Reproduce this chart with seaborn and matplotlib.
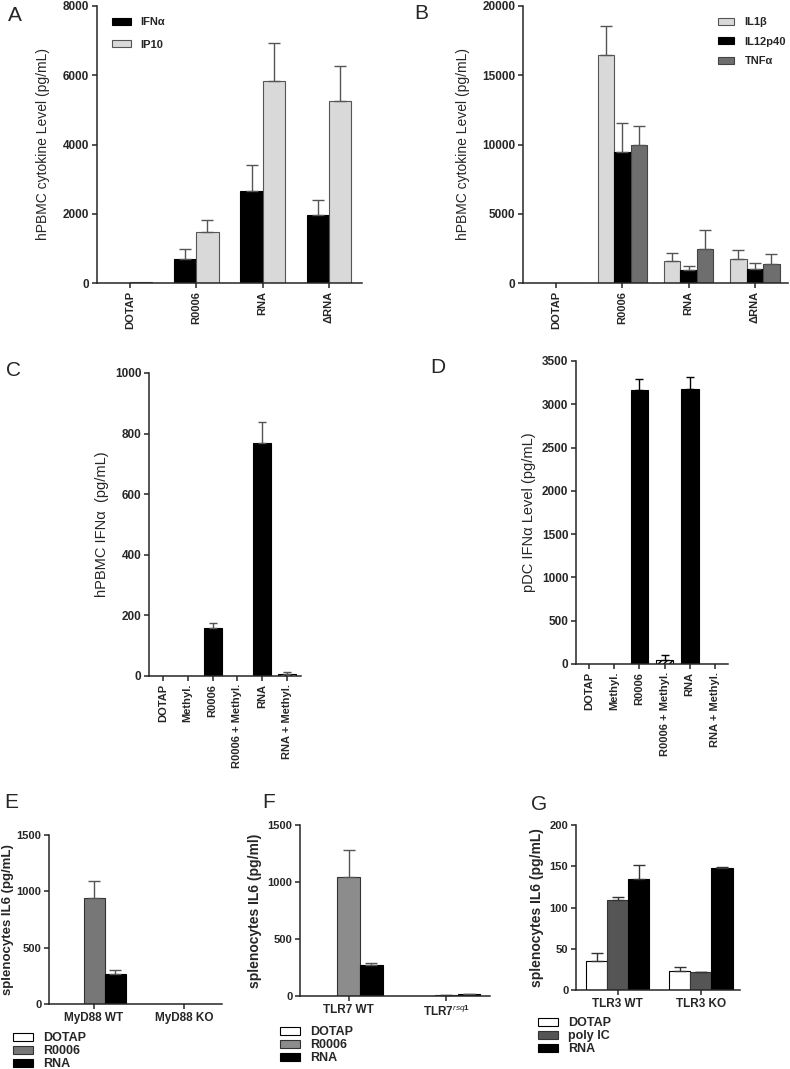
import matplotlib
matplotlib.use("Agg")
import numpy as np
import pandas as pd
import seaborn as sns
import matplotlib.pyplot as plt

sns.set_style("ticks")
plt.rcParams["font.family"] = ["Liberation Sans", "DejaVu Sans"]
plt.rcParams["mathtext.fontset"] = "custom"
plt.rcParams["mathtext.it"] = "Liberation Sans:italic"
plt.rcParams["mathtext.rm"] = "Liberation Sans:bold"

# ---------------- data ----------------
a_groups = ["DOTAP", "R0006", "RNA", "\u0394RNA"]
a_ifna = [0, 690, 2650, 1960]
a_ifna_top = [0, 990, 3420, 2390]
a_ip10 = [30, 1470, 5830, 5250]
a_ip10_top = [30, 1830, 6920, 6260]

b_groups = ["DOTAP", "R0006", "RNA", "\u0394RNA"]
b_il1b = [0, 16480, 1570, 1760]
b_il1b_top = [0, 18580, 2170, 2410]
b_il12 = [0, 9470, 960, 1010]
b_il12_top = [0, 11520, 1250, 1420]
b_tnfa = [0, 9930, 2430, 1400]
b_tnfa_top = [0, 11370, 3850, 2070]

cd_groups = ["DOTAP", "Methyl.", "R0006", "R0006 + Methyl.", "RNA", "RNA + Methyl."]
c_ifna = [0, 0, 157, 0, 769, 8]
c_ifna_top = [0, 0, 174, 0, 837, 13]
d_ifna = [0, 0, 3166, 46, 3178, 0]
d_ifna_top = [0, 0, 3290, 100, 3320, 0]

e_groups = ["MyD88 WT", "MyD88 KO"]
e_dotap = [0, 0]
e_r0006 = [940, 0]
e_r0006_top = [1090, 0]
e_rna = [268, 0]
e_rna_top = [300, 0]

f_groups = ["TLR7 WT", r"TLR7$^{\mathit{rsq1}}$"]
f_dotap = [0, 0]
f_r0006 = [1045, 8]
f_r0006_top = [1285, 10]
f_rna = [275, 15]
f_rna_top = [288, 18]

g_groups = ["TLR3 WT", "TLR3 KO"]
g_dotap = [35, 23]
g_dotap_top = [45, 27.5]
g_polyic = [109.5, 21.5]
g_polyic_top = [113, 22]
g_rna = [135, 147.5]
g_rna_top = [152, 148.5]

W, H = 790, 1069
fig = plt.figure(figsize=(W / 100, H / 100), dpi=100)


def px_axes(left, top, right, bottom):
    return fig.add_axes([left / W, 1 - bottom / H, (right - left) / W, (bottom - top) / H])


def bars(ax, groups, series, colors, edges, width, tops, errcolor, capsize):
    rows = []
    for name, vals in series.items():
        for g, v in zip(groups, vals):
            rows.append((g, name, v))
    df = pd.DataFrame(rows, columns=["group", "treat", "value"])
    sns.barplot(data=df, x="group", y="value", hue="treat", order=groups,
                hue_order=list(series), palette=colors, width=width,
                errorbar=None, saturation=1, linewidth=0.8, ax=ax, legend=False)
    for cont, ec, top, vals in zip(ax.containers, edges, tops, series.values()):
        for p, v, t in zip(cont.patches, vals, top):
            p.set_edgecolor(ec)
            if t > v:
                ax.errorbar(p.get_x() + p.get_width() / 2, v, yerr=[[0], [t - v]],
                            color=errcolor, capsize=capsize, lw=1, capthick=1)
    return ax.containers


def style(ax, ylim, yticks, ylabel, xlim, ylfs=10, bold_label=False, rot=90,
          xfs=8, yfs=8.5, labelpad=4):
    sns.despine(ax=ax)
    ax.set_ylim(*ylim)
    ax.set_xlim(*xlim)
    ax.set_yticks(yticks, labels=[str(t) for t in yticks], fontweight="bold", fontsize=yfs)
    ax.set_ylabel(ylabel, fontsize=ylfs, fontweight="bold" if bold_label else "normal",
                  labelpad=labelpad)
    ax.set_xlabel("")
    labels = [t.get_text() for t in ax.get_xticklabels()]
    ax.set_xticks(range(len(labels)), labels=labels, rotation=rot,
                  fontweight="bold", fontsize=xfs)
    for s in ("left", "bottom"):
        ax.spines[s].set_linewidth(1.1)
    ax.tick_params(width=1.1, length=3.5, pad=2)


# ---------------- A ----------------
axA = px_axes(97, 6, 362, 283)
cont = bars(axA, a_groups, {"IFN\u03b1": a_ifna, "IP10": a_ip10},
            ["black", "#d9d9d9"], ["black", "#555555"], 0.67,
            [a_ifna_top, a_ip10_top], "#555555", 4)
style(axA, (0, 8000), [0, 2000, 4000, 6000, 8000],
      "hPBMC cytokine Level (pg/mL)", (-0.5, 3.5), labelpad=9)
axA.legend(handles=list(cont), labels=["IFN\u03b1", "IP10"], loc="upper left",
           bbox_to_anchor=(0.02, 0.995), frameon=False, prop={"weight": "bold", "size": 8},
           handlelength=1.7, handleheight=0.6, labelspacing=1.1, handletextpad=0.8)

# ---------------- B ----------------
axB = px_axes(523, 6, 788, 283)
cont = bars(axB, b_groups, {"IL1\u03b2": b_il1b, "IL12p40": b_il12, "TNF\u03b1": b_tnfa},
            ["#d9d9d9", "black", "#6e6e6e"], ["#555555", "black", "#444444"], 0.75,
            [b_il1b_top, b_il12_top, b_tnfa_top], "#555555", 4)
style(axB, (0, 20000), [0, 5000, 10000, 15000, 20000],
      "hPBMC cytokine Level (pg/mL)", (-0.5, 3.5), labelpad=9)
axB.legend(handles=list(cont), labels=["IL1\u03b2", "IL12p40", "TNF\u03b1"],
           loc="upper right", bbox_to_anchor=(1.03, 0.995), frameon=False,
           prop={"weight": "bold", "size": 8},
           handlelength=1.5, handleheight=0.6, labelspacing=0.85, handletextpad=0.9)

# ---------------- C ----------------
axC = px_axes(149, 373, 301, 676)
bars(axC, cd_groups, {"IFN": c_ifna}, ["black"], ["black"], 0.72,
     [c_ifna_top], "#555555", 3)
hp = axC.containers[0].patches[5]
hp.set_facecolor("white")
hp.set_hatch("//////")
style(axC, (0, 1000), [0, 200, 400, 600, 800, 1000],
      "hPBMC IFN\u03b1  (pg/mL)", (-0.56, 5.56), ylfs=10.5)

# ---------------- D ----------------
axD = px_axes(576, 361, 728, 664)
bars(axD, cd_groups, {"IFN": d_ifna}, ["black"], ["black"], 0.7,
     [d_ifna_top], "black", 3)
hp = axD.containers[0].patches[3]
hp.set_facecolor("white")
hp.set_hatch("//////")
style(axD, (0, 3500), [0, 500, 1000, 1500, 2000, 2500, 3000, 3500],
      "pDC IFN\u03b1 Level (pg/mL)", (-0.52, 5.52), ylfs=10.5)

# ---------------- E ----------------
axE = px_axes(49, 835, 222, 1004)
cont = bars(axE, e_groups, {"DOTAP": e_dotap, "R0006": e_r0006, "RNA": e_rna},
            ["white", "#777777", "black"], ["black", "#333333", "black"], 0.7,
            [e_dotap, e_r0006_top, e_rna_top], "#555555", 4)
style(axE, (0, 1500), [0, 500, 1000, 1500],
      "splenocytes IL6 (pg/mL)", (-0.5, 1.42), ylfs=9.5, bold_label=True, rot=0,
      xfs=8.5, yfs=8, labelpad=2)

# ---------------- F ----------------
axF = px_axes(300, 825, 490, 996)
cont_f = bars(axF, f_groups, {"DOTAP": f_dotap, "R0006": f_r0006, "RNA": f_rna},
              ["white", "#8c8c8c", "black"], ["black", "#333333", "black"], 0.7,
              [f_dotap, f_r0006_top, f_rna_top], "#555555", 4)
style(axF, (0, 1500), [0, 500, 1000, 1500],
      "splenocytes IL6 (pg/ml)", (-0.5, 1.45), ylfs=10, bold_label=True, rot=0,
      xfs=8.5, yfs=8)

# ---------------- G ----------------
axG = px_axes(576, 825, 740, 990)
cont_g = bars(axG, g_groups, {"DOTAP": g_dotap, "poly IC": g_polyic, "RNA": g_rna},
              ["white", "#555555", "black"], ["black", "#333333", "black"], 0.76,
              [g_dotap_top, g_polyic_top, g_rna_top], "#333333", 4)
style(axG, (0, 200), [0, 50, 100, 150, 200],
      "splenocytes IL6 (pg/mL)", (-0.5, 1.47), ylfs=10, bold_label=True, rot=0,
      xfs=8.5, yfs=8)

# legends under the bottom panels
for c, labs, x0, ytop in [(cont, ["DOTAP", "R0006", "RNA"], 13, 1032),
                          (cont_f, ["DOTAP", "R0006", "RNA"], 280, 1026),
                          (cont_g, ["DOTAP", "poly IC", "RNA"], 538, 1017)]:
    fig.legend(handles=list(c), labels=labs, loc="upper left",
               bbox_to_anchor=(x0 / W, 1 - ytop / H),
               frameon=False, prop={"weight": "bold", "size": 9},
               handlelength=1.6, handleheight=0.6, labelspacing=0.08,
               borderpad=0, borderaxespad=0, handletextpad=0.8)

# panel letters
for letter, x, y in [("A", 8, 6), ("B", 414, 4), ("C", 6, 361), ("D", 430, 358),
                     ("E", 4, 793), ("F", 262, 793), ("G", 531, 795)]:
    fig.text(x / W, 1 - y / H, letter, fontsize=15, va="top", ha="left")

fig.savefig("out.png", dpi=100)
